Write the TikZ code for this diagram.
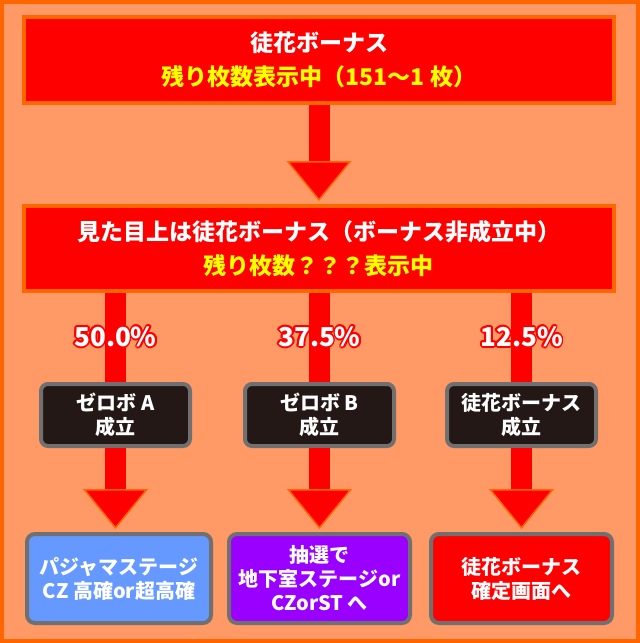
\documentclass[tikz,border=0pt]{standalone}
\usepackage{fontspec}
\setmainfont{Noto Sans CJK JP}[BoldFont={Noto Sans CJK JP Black}]
\usepackage{contour}
\contourlength{1.8pt}
\usepackage{xcolor}
\definecolor{bgorange}{RGB}{255,153,102}
\definecolor{deeporange}{RGB}{255,102,0}
\definecolor{boxred}{RGB}{255,0,0}
\definecolor{txtyellow}{RGB}{255,255,0}
\definecolor{darkbox}{RGB}{35,24,21}
\definecolor{rimgray}{RGB}{112,112,112}
\definecolor{paleblue}{RGB}{102,153,255}
\definecolor{zonepurple}{RGB}{153,0,255}
\usetikzlibrary{arrows.meta}
\tikzstyle{banner} = [draw=deeporange, line width=4pt, fill=boxred,
  text=white, minimum width=590pt, minimum height=86pt, align=center,
  font=\bfseries\fontsize{23}{34}\selectfont]
\tikzstyle{result} = [draw=rimgray, line width=4pt, rounded corners=7pt,
  fill=darkbox, text=white, minimum width=149pt, minimum height=62pt,
  align=center, font=\bfseries\fontsize{20}{24}\selectfont]
\tikzstyle{screen} = [draw=rimgray, line width=4pt, rounded corners=8pt,
  text=white, minimum width=181pt, minimum height=89pt, align=center,
  font=\bfseries\fontsize{20}{24}\selectfont]
\tikzstyle{shaft} = [draw=boxred, line width=21pt]
\tikzstyle{bigarrow} = [shaft, shorten >=3pt,
  -{Triangle[length=40pt, width=65pt, line width=1.5pt, color=deeporange, fill=boxred]}]
\tikzstyle{rate} = [text=white, font=\bfseries\fontsize{26}{26}\selectfont]

\begin{document}
\begin{tikzpicture}[x=1pt, y=-1pt]
  \useasboundingbox (0,0) rectangle (640,643);
  \fill[bgorange] (0,0) rectangle (640,643);
  \draw[deeporange, line width=4pt] (2,2) rectangle (638,641);

  \node[banner] (bonus) at (319,60)
    {徒花ボーナス\\\textcolor{txtyellow}{残り枚数表示中（151〜1 枚）}};
  \node[banner, minimum height=85pt] (fake) at (319,248.5)
    {見た目上は徒花ボーナス（ボーナス非成立中）\\\textcolor{txtyellow}{残り枚数？？？表示中}};

  \node[result] (zeroA) at (115.5,415) {ゼロボ A\\成立};
  \node[result] (zeroB) at (319.5,415) {ゼロボ B\\成立};
  \node[result] (hit) at (521.5,415) {徒花ボーナス\\成立};

  \node[screen, fill=paleblue, minimum width=184pt] (pajama) at (119,578.5)
    {パジャマステージ\\CZ 高確or超高確};
  \node[screen, fill=zonepurple] (cellar) at (319.5,578.5)
    {抽選で\\地下室ステージor\\CZorST へ};
  \node[screen, fill=boxred] (fixed) at (521.5,578.5)
    {徒花ボーナス\\確定画面へ};

  \path[bigarrow] (bonus.south) -- (fake.north);

  \path[shaft] (fake.south -| zeroA) -- node[rate] {\contour{boxred}{50.0\%}} (zeroA.north);
  \path[shaft] (fake.south -| zeroB) -- node[rate] {\contour{boxred}{37.5\%}} (zeroB.north);
  \path[shaft] (fake.south -| hit) -- node[rate] {\contour{boxred}{12.5\%}} (hit.north);

  \path[bigarrow] (zeroA.south) -- (zeroA.south |- pajama.north);
  \path[bigarrow] (zeroB.south) -- (zeroB.south |- cellar.north);
  \path[bigarrow] (hit.south) -- (hit.south |- fixed.north);
\end{tikzpicture}
\end{document}
